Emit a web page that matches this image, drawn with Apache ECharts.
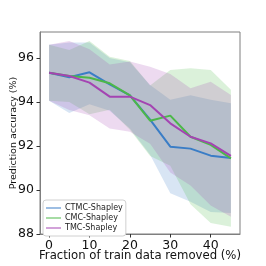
<!DOCTYPE html>
<html>
<head>
<meta charset="utf-8">
<script src="https://cdn.jsdelivr.net/npm/echarts@6/dist/echarts.min.js"></script>
<style>html,body{margin:0;padding:0;background:#fff}#c{width:266px;height:266px}</style>
</head>
<body>
<div id="c"></div>
<script>
var xs = [0, 5, 10, 15, 20, 25, 30, 35, 40, 45];
var xTicks = [0, 10, 20, 30, 40];
var yTicks = [88, 90, 92, 94, 96];
var names = ['CTMC-Shapley', 'CMC-Shapley', 'TMC-Shapley'];

var ctmcMean  = [95.33, 95.12, 95.35, 94.80, 94.30, 93.20, 91.97, 91.88, 91.56, 91.45];
var ctmcUpper = [96.60, 96.70, 96.70, 96.00, 95.80, 94.77, 94.10, 94.30, 94.10, 93.94];
var ctmcLower = [94.05, 93.50, 93.90, 93.60, 92.80, 91.60, 89.85, 89.47, 89.00, 88.96];

var cmcMean  = [95.33, 95.18, 95.10, 94.85, 94.30, 93.15, 93.38, 92.42, 92.05, 91.44];
var cmcUpper = [96.60, 96.36, 96.77, 96.06, 95.86, 94.75, 95.45, 95.53, 95.45, 94.55];
var cmcLower = [94.05, 94.00, 93.44, 93.65, 92.74, 91.55, 91.10, 89.35, 88.50, 88.33];

var tmcMean  = [95.33, 95.18, 94.88, 94.24, 94.24, 93.86, 93.03, 92.42, 92.12, 91.55];
var tmcUpper = [96.60, 96.77, 96.40, 95.70, 95.84, 95.60, 95.27, 94.62, 94.92, 94.32];
var tmcLower = [94.05, 93.64, 93.40, 92.80, 92.65, 92.10, 90.80, 90.20, 89.30, 88.78];

var colors = ['#3a7dc6', '#4cb848', '#a444b2'];
var means = [ctmcMean, cmcMean, tmcMean];
var uppers = [ctmcUpper, cmcUpper, tmcUpper];
var lowers = [ctmcLower, cmcLower, tmcLower];

function pairs(arr) { return xs.map(function (x, i) { return [x, arr[i]]; }); }

var series = [];
for (var k = 0; k < 3; k++) {
  (function (k) {
    var lo = lowers[k], up = uppers[k];
    series.push({
      name: 'band-' + k, type: 'custom', silent: true, z: 1, clip: true,
      data: [[xs[0], lo[0]]],
      renderItem: function (params, api) {
        var pts = [];
        for (var i = 0; i < xs.length; i++) pts.push(api.coord([xs[i], up[i]]));
        for (var j = xs.length - 1; j >= 0; j--) pts.push(api.coord([xs[j], lo[j]]));
        return {
          type: 'polygon', shape: { points: pts },
          style: { fill: colors[k], opacity: 0.2, stroke: null }
        };
      }
    });
  })(k);
}
for (var k2 = 0; k2 < 3; k2++) {
  series.push({
    name: names[k2], type: 'line', data: pairs(means[k2]), symbol: 'none',
    lineStyle: { color: colors[k2], width: 2 }, itemStyle: { color: colors[k2] }, z: 5
  });
}

var font = 'DejaVu Sans';
var chart = echarts.init(document.getElementById('c'), null, { renderer: 'canvas' });
chart.setOption({
  animation: false,
  backgroundColor: '#fff',
  grid: { left: 40, right: 26, top: 32, bottom: 32, containLabel: false, outerBoundsMode: 'none',
          show: true, borderColor: '#7f7f7f', borderWidth: 1, backgroundColor: 'transparent' },
  xAxis: {
    type: 'value', min: -2.25, max: 47.25,
    splitLine: { show: false },
    axisLine: { show: true, onZero: false, lineStyle: { color: '#7f7f7f' } },
    axisTick: { show: true, customValues: xTicks, length: 3.5, lineStyle: { color: '#333' } },
    axisLabel: { customValues: xTicks, fontFamily: font, fontSize: 12.5, color: '#111', margin: 5 },
    name: 'Fraction of train data removed (%)', nameLocation: 'middle', nameGap: 16,
    nameMoveOverlap: false,
    nameTextStyle: { fontFamily: font, fontSize: 11.7, color: '#111' }
  },
  yAxis: {
    type: 'value', min: 88, max: 97.18,
    splitLine: { show: false },
    axisLine: { show: true, onZero: false, lineStyle: { color: '#7f7f7f' } },
    axisTick: { show: true, customValues: yTicks, length: 3.5, lineStyle: { color: '#333' } },
    axisLabel: { customValues: yTicks, fontFamily: font, fontSize: 12.5, color: '#111', margin: 6 },
    name: 'Prediction accuracy (%)', nameLocation: 'middle', nameGap: 21,
    nameMoveOverlap: false,
    nameTextStyle: { fontFamily: font, fontSize: 9.5, color: '#111' }
  },
  legend: {
    data: names, orient: 'vertical', left: 43, top: 200,
    backgroundColor: '#fff', borderColor: '#d0d0d0', borderWidth: 1, borderRadius: 3,
    padding: [4, 3, 4, 3], itemGap: 2, itemWidth: 15, itemHeight: 8,
    icon: 'path://M0,3.5L15,3.5L15,4.5L0,4.5Z',
    textStyle: { fontFamily: font, fontSize: 8, color: '#222', padding: [0, 0, 0, -1] }
  },
  series: series
});
</script>
</body>
</html>
